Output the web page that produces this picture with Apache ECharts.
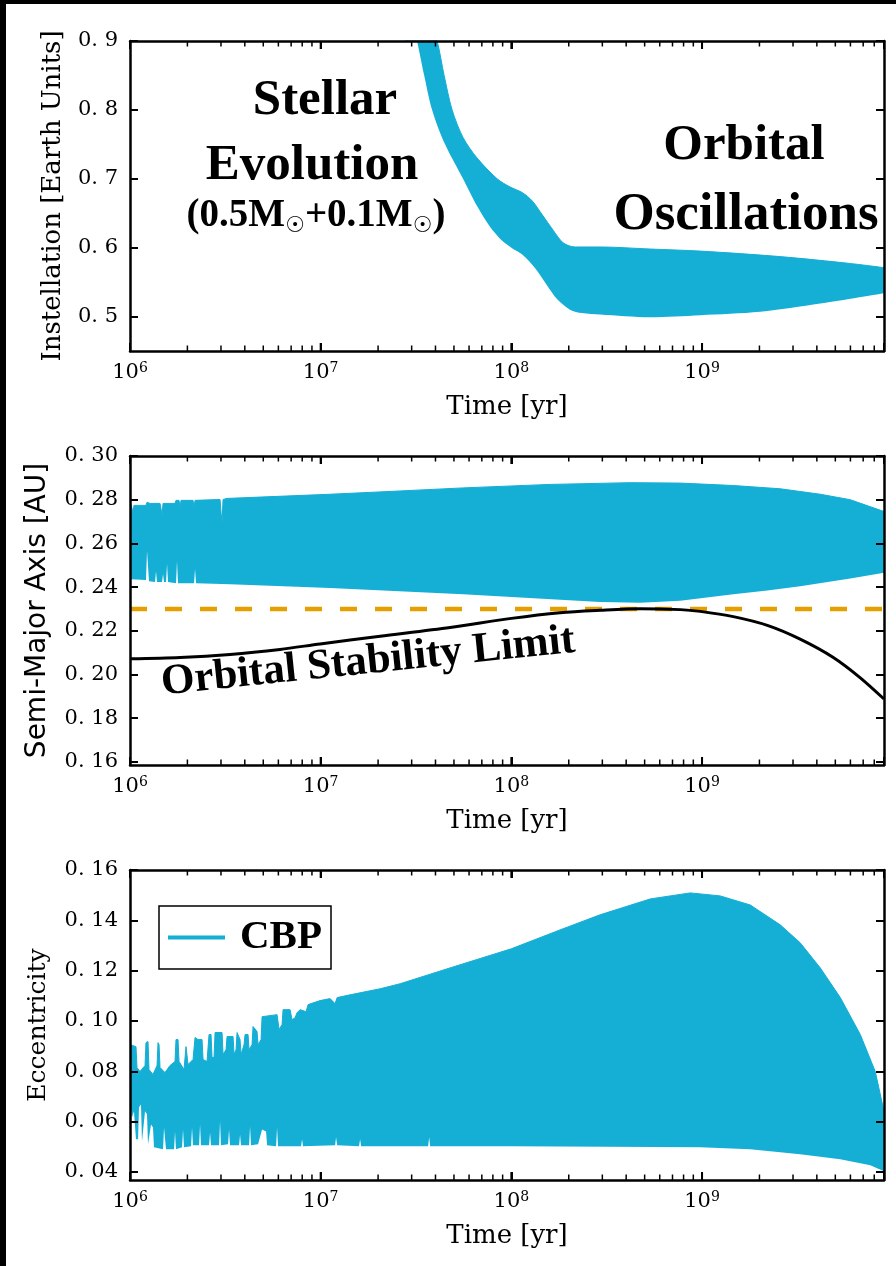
<!DOCTYPE html>
<html>
<head>
<meta charset="utf-8">
<script src="https://cdn.jsdelivr.net/npm/echarts@6/dist/echarts.min.js"></script>
<style>
  html, body { margin: 0; background: #000; }
  #chart { position: absolute; left: 6px; top: 4px; width: 890px; height: 1262px; background: #fff; }
  #err { position: absolute; left: 10px; bottom: 4px; color: #c00; font: 12px monospace; margin: 0; z-index: 10; }
</style>
</head>
<body>
<div id="chart"></div>
<pre id="err"></pre>
<script>
window.addEventListener("error", (e) => { document.getElementById("err").textContent += "ERR " + e.message + "\n"; });

// envelope of the oscillating quantities, [time (yr), value]
const instUpper = [[2.77e7, 1.02], [3.55e7, 0.95], [4.08e7, 0.90], [4.44e7, 0.85], [4.89e7, 0.80], [5.58e7, 0.76],
  [6.62e7, 0.73], [8.42e7, 0.70], [9.86e7, 0.688], [1.14e8, 0.68], [1.285e8, 0.668], [1.45e8, 0.648], [1.66e8, 0.625],
  [1.87e8, 0.607], [2.16e8, 0.601], [2.92e8, 0.601], [5.35e8, 0.598], [9.8e8, 0.595], [2.57e9, 0.587], [5.99e9, 0.577], [9e9, 0.571]];
const instLower = [[2.5e7, 1.0], [2.77e7, 0.97], [3.2e7, 0.90], [3.49e7, 0.85], [3.84e7, 0.80], [4.49e7, 0.75], [5.58e7, 0.70],
  [6.62e7, 0.66], [7.74e7, 0.63], [8.95e7, 0.61], [1.0e8, 0.60], [1.14e8, 0.59], [1.333e8, 0.57], [1.54e8, 0.545],
  [1.74e8, 0.525], [2.03e8, 0.51], [2.35e8, 0.505], [2.92e8, 0.503], [5.35e8, 0.499], [9.8e8, 0.502], [2.02e9, 0.507],
  [4.17e9, 0.519], [9e9, 0.534]];

const smaUpper = [[1e6, 0.2797], [1.024e6, 0.2797], [1.037e6, 0.2741], [1.049e6, 0.2774], [1.213e6, 0.2774],
  [1.228e6, 0.2788], [1.273e6, 0.2783], [1.437e6, 0.2783], [1.454e6, 0.2760], [1.472e6, 0.2727], [1.49e6, 0.2783],
  [1.722e6, 0.2783], [1.743e6, 0.2797], [1.808e6, 0.2797], [1.83e6, 0.2764], [1.852e6, 0.2797], [2.141e6, 0.2797],
  [2.167e6, 0.2764], [2.193e6, 0.2797], [2.966e6, 0.2801], [3.002e6, 0.2741], [3.039e6, 0.2695], [3.076e6, 0.2801],
  [3.228e6, 0.2806], [4.809e6, 0.2812], [1.12e7, 0.2825], [2.61e7, 0.2840], [5.585e7, 0.2854], [1.598e8, 0.2870],
  [4.2e8, 0.2878], [7.69e8, 0.2876], [1.458e9, 0.2865], [2.57e9, 0.2850], [4.17e9, 0.2825], [5.99e9, 0.2800], [9e9, 0.2746]];
const smaLower = [[1e6, 0.2450], [1.012e6, 0.2436], [1.213e6, 0.2432], [1.228e6, 0.2566], [1.243e6, 0.2566],
  [1.258e6, 0.2427], [1.353e6, 0.2423], [1.369e6, 0.2473], [1.386e6, 0.2423], [1.472e6, 0.2423], [1.49e6, 0.2460],
  [1.508e6, 0.2423], [1.545e6, 0.2423], [1.564e6, 0.2506], [1.583e6, 0.2423], [1.743e6, 0.2418], [1.764e6, 0.2520],
  [1.786e6, 0.2418], [2.167e6, 0.2418], [2.193e6, 0.2483], [2.22e6, 0.2418], [3.347e6, 0.2413], [1.12e7, 0.2396],
  [5.585e7, 0.2367], [2.92e8, 0.2332], [4.74e8, 0.2328], [7.69e8, 0.2338], [1.458e9, 0.2367], [2.2e9, 0.2385],
  [3.27e9, 0.2404], [5.99e9, 0.2440], [9e9, 0.2466]];
const stabilityLimit = [[1e6, 0.2072], [1.83e6, 0.2078], [3.347e6, 0.2092], [6.124e6, 0.2115], [9.93e6, 0.2140],
  [2.05e7, 0.2175], [4.77e7, 0.2215], [1e8, 0.2257], [1.8e8, 0.2283], [2.92e8, 0.2294], [4.74e8, 0.2301],
  [7.69e8, 0.2297], [9.78e8, 0.2289], [1.458e9, 0.2265], [2.2e9, 0.2225], [3.27e9, 0.2162], [4.88e9, 0.2078],
  [6.76e9, 0.1985], [9e9, 0.1888]];
const hzLimit = 0.23;

const eccUpper = [[1.0e6, 0.0906], [1.075e6, 0.0898], [1.088e6, 0.0815], [1.128e6, 0.0799], [1.199e6, 0.0823],
  [1.213e6, 0.0914], [1.243e6, 0.0918], [1.258e6, 0.0807], [1.32e6, 0.0787], [1.386e6, 0.0823], [1.403e6, 0.0914],
  [1.42e6, 0.0906], [1.437e6, 0.0815], [1.526e6, 0.0795], [1.621e6, 0.0823], [1.722e6, 0.0839], [1.743e6, 0.0926],
  [1.786e6, 0.0926], [1.808e6, 0.0839], [1.92e6, 0.0807], [1.967e6, 0.0898], [1.991e6, 0.0898], [2.015e6, 0.0827],
  [2.141e6, 0.0847], [2.193e6, 0.0934], [2.274e6, 0.0926], [2.387e6, 0.0926], [2.416e6, 0.0847], [2.535e6, 0.0839],
  [2.597e6, 0.0946], [2.661e6, 0.0946], [2.693e6, 0.0855], [2.759e6, 0.0855], [2.793e6, 0.0954], [3.039e6, 0.0954],
  [3.076e6, 0.0867], [3.189e6, 0.0886], [3.228e6, 0.0938], [3.471e6, 0.0938], [3.513e6, 0.0867], [3.599e6, 0.0886],
  [3.642e6, 0.0954], [3.777e6, 0.0926], [3.823e6, 0.0867], [3.964e6, 0.0906], [4.012e6, 0.0946], [4.16e6, 0.0946],
  [4.211e6, 0.0886], [4.366e6, 0.0906], [4.419e6, 0.0978], [4.638e6, 0.0958], [4.695e6, 0.0906], [4.868e6, 0.0926],
  [4.927e6, 0.1017], [5.905e6, 0.1025], [6.05e6, 0.0966], [6.273e6, 0.0986], [6.35e6, 0.1045], [6.91e6, 0.1045],
  [7.079e6, 0.1005], [7.34e6, 0.1013], [7.52e6, 0.1033], [7.797e6, 0.1045], [8.38e6, 0.1037], [8.59e6, 0.1065],
  [9.93e6, 0.1081], [1.12e7, 0.1089], [1.19e7, 0.1069], [1.22e7, 0.1093], [1.427e7, 0.1104], [1.61e7, 0.1112],
  [1.816e7, 0.1120], [2.05e7, 0.1128], [2.61e7, 0.1148], [4.77e7, 0.1211], [1e8, 0.1287], [1.8e8, 0.1362],
  [2.92e8, 0.1422], [5.35e8, 0.1485], [8.67e8, 0.1509], [1.246e9, 0.1497], [1.79e9, 0.1461], [2.57e9, 0.1382],
  [3.27e9, 0.1311], [4.17e9, 0.1211], [5.31e9, 0.1093], [6.76e9, 0.0946], [8.1e9, 0.0799], [9e9, 0.0641]];
const eccLower = [[1.0e6, 0.0688], [1.024e6, 0.0617], [1.049e6, 0.0641], [1.075e6, 0.0530], [1.102e6, 0.0530],
  [1.115e6, 0.0657], [1.142e6, 0.0668], [1.156e6, 0.0522], [1.184e6, 0.0518], [1.199e6, 0.0641], [1.228e6, 0.0629],
  [1.243e6, 0.0510], [1.273e6, 0.0506], [1.289e6, 0.0589], [1.32e6, 0.0577], [1.336e6, 0.0498], [1.49e6, 0.0490],
  [1.508e6, 0.0577], [1.526e6, 0.0577], [1.545e6, 0.0490], [1.702e6, 0.0490], [1.722e6, 0.0561], [1.743e6, 0.0490],
  [1.874e6, 0.0498], [1.897e6, 0.0569], [1.92e6, 0.0498], [2.089e6, 0.0502], [2.115e6, 0.0577], [2.141e6, 0.0506],
  [2.302e6, 0.0506], [2.33e6, 0.0589], [2.358e6, 0.0506], [2.597e6, 0.0506], [2.629e6, 0.0557], [2.661e6, 0.0506],
  [2.931e6, 0.0506], [2.966e6, 0.0601], [3.002e6, 0.0506], [3.267e6, 0.0510], [3.307e6, 0.0569], [3.347e6, 0.0506],
  [3.732e6, 0.0506], [3.777e6, 0.0549], [3.823e6, 0.0506], [4.211e6, 0.0506], [4.262e6, 0.0581], [4.314e6, 0.0506],
  [4.695e6, 0.0510], [4.927e6, 0.0569], [5.171e6, 0.0561], [5.234e6, 0.0506], [5.834e6, 0.0502], [5.905e6, 0.0577],
  [5.977e6, 0.0502], [7.891e6, 0.0502], [7.986e6, 0.0530], [8.08e6, 0.0502], [1.19e7, 0.0506], [1.204e7, 0.0538],
  [1.22e7, 0.0506], [1.588e7, 0.0502], [1.61e7, 0.0530], [1.63e7, 0.0502], [3.66e7, 0.0502], [3.705e7, 0.0538],
  [3.75e7, 0.0502], [1e8, 0.0502], [9.78e8, 0.0498], [1.79e9, 0.0490], [3.27e9, 0.0470], [5.31e9, 0.0450],
  [7.63e9, 0.0427], [9e9, 0.0403]];

const instTicks = [0.5, 0.6, 0.7, 0.8, 0.9];
const smaTicks = [0.16, 0.18, 0.20, 0.22, 0.24, 0.26, 0.28, 0.30];
const eccTicks = [0.04, 0.06, 0.08, 0.10, 0.12, 0.14, 0.16];
const timeRange = [1e6, 9e9];
const decadeTicks = [1e6, 1e7, 1e8, 1e9];
const minorTimeTicks = [];
decadeTicks.forEach((d) => {
  for (let k = 2; k <= 9; k++) if (k * d < timeRange[1]) minorTimeTicks.push(k * d);
});

const BLUE = "#15aed5";
const ORANGE = "#e69f00";
const SERIF = "DejaVu Serif";
const BOLD = "Liberation Serif";

const panels = [
  { grid: { left: 124, top: 37, width: 754, height: 310 }, range: [0.45, 0.9], ticks: instTicks, dec: 1,
    name: "Instellation [Earth Units]", nameGap: 64, nameFont: { fontFamily: SERIF, fontSize: 26 } },
  { grid: { left: 124, top: 452, width: 754, height: 309 }, range: [0.1586, 0.30], ticks: smaTicks, dec: 2,
    name: "Semi-Major Axis [AU]", nameGap: 78, nameFont: { fontFamily: "DejaVu Sans", fontSize: 28 } },
  { grid: { left: 124, top: 866, width: 754, height: 310 }, range: [0.0368, 0.16], ticks: eccTicks, dec: 2,
    name: "Eccentricity", nameGap: 79, nameFont: { fontFamily: SERIF, fontSize: 25 } },
];

const frame = () => ({ show: true, onZero: false, lineStyle: { color: "#000", width: 2.5 } });
const majorTick = () => ({ show: true, inside: true, length: 8, lineStyle: { color: "#000", width: 2 } });

const powLabel = (v) => {
  const e = Math.log10(v);
  const r = Math.round(e);
  if (Math.abs(e - r) > 1e-6) return "";
  return "{b|10}{s|" + r + "}";
};

const xAxis = [];
const yAxis = [];
panels.forEach((p, g) => {
  xAxis.push({
    type: "log", gridIndex: g, position: "bottom", min: timeRange[0], max: timeRange[1], z: 5,
    axisLine: frame(), axisTick: majorTick(), splitLine: { show: false },
    axisLabel: {
      margin: 10, formatter: powLabel, color: "#000",
      rich: {
        b: { fontFamily: SERIF, fontSize: 21, color: "#000", lineHeight: 24 },
        s: { fontFamily: SERIF, fontSize: 14, color: "#000", lineHeight: 14, verticalAlign: "top" },
      },
    },
    name: "Time [yr]", nameLocation: "middle", nameGap: 43,
    nameTextStyle: { fontFamily: SERIF, fontSize: 26, color: "#000" },
  });
  xAxis.push({
    type: "log", gridIndex: g, position: "top", min: timeRange[0], max: timeRange[1], z: 5,
    axisLine: frame(), axisTick: majorTick(), axisLabel: { show: false }, splitLine: { show: false },
  });
  const fmt = (v) => v.toFixed(p.dec).replace(".", ". ");
  yAxis.push({
    type: "value", gridIndex: g, position: "left", min: p.range[0], max: p.range[1], z: 5,
    axisLine: frame(), axisTick: Object.assign(majorTick(), { customValues: p.ticks }), splitLine: { show: false },
    axisLabel: { customValues: p.ticks, formatter: fmt, margin: 12, fontFamily: SERIF, fontSize: 21, color: "#000" },
    name: p.name, nameLocation: "middle", nameGap: p.nameGap,
    nameTextStyle: Object.assign({ color: "#000" }, p.nameFont),
  });
  yAxis.push({
    type: "value", gridIndex: g, position: "right", min: p.range[0], max: p.range[1], z: 5,
    axisLine: frame(), axisTick: Object.assign(majorTick(), { customValues: p.ticks }),
    axisLabel: { show: false }, splitLine: { show: false },
  });
});

// log-axis tick marks (bottom and top edge), one short broken segment per tick
const tickMarks = (g, values, px, width) => {
  const p = panels[g];
  const len = px * (p.range[1] - p.range[0]) / p.grid.height;
  const data = [];
  values.forEach((t) => {
    data.push([t, p.range[0]], [t, p.range[0] + len], [t, "-"]);
    data.push([t, p.range[1]], [t, p.range[1] - len], [t, "-"]);
  });
  return {
    type: "line", xAxisIndex: 2 * g, yAxisIndex: 2 * g, data, symbol: "none", z: 8,
    lineStyle: { color: "#000", width },
  };
};

// band = blue fill under the upper envelope, white fill under the lower one
const band = (g, name, upper, lower, smooth) => [
  {
    name, type: "line", xAxisIndex: 2 * g, yAxisIndex: 2 * g, data: upper, symbol: "none", z: 2, smooth,
    lineStyle: { color: BLUE, width: 1 }, itemStyle: { color: BLUE },
    areaStyle: { color: BLUE, opacity: 1, origin: "start" },
  },
  {
    name: name + " lower", type: "line", xAxisIndex: 2 * g, yAxisIndex: 2 * g, data: lower, symbol: "none", z: 3, smooth,
    lineStyle: { width: 0 }, areaStyle: { color: "#fff", opacity: 1, origin: "start" },
  },
];

// tick series first, drawn on top through z
const series = [];
panels.forEach((p, g) => {
  series.push(tickMarks(g, minorTimeTicks, 5.5, 1.5));
  series.push(tickMarks(g, decadeTicks.slice(1), 8, 2));
});
series.push(
  ...band(0, "Instellation", instUpper, instLower, 0.3),
  ...band(1, "Semi-major axis", smaUpper, smaLower, false),
  ...band(2, "CBP", eccUpper, eccLower, false),
  {
    name: "HZ limit", type: "line", xAxisIndex: 2, yAxisIndex: 2, symbol: "none", z: 4,
    data: [[timeRange[0], hzLimit], [timeRange[1], hzLimit]],
    lineStyle: { color: ORANGE, width: 4.5, type: [17, 18] },
  },
  {
    name: "Stability", type: "line", xAxisIndex: 2, yAxisIndex: 2, symbol: "none", z: 4, smooth: 0.3,
    data: stabilityLimit, lineStyle: { color: "#000", width: 3 },
  }
);

const label = (x, y, text, size, extra) => ({
  type: "text", x, y, z: 20, rotation: (extra && extra.rotation) || 0,
  style: Object.assign({
    text, font: "bold " + size + 'px "' + BOLD + '"', fill: "#000",
    align: "center", verticalAlign: "middle", textAlign: "center", textVerticalAlign: "middle",
  }, extra && extra.style),
});

try {
  const chart = echarts.init(document.getElementById("chart"));
  chart.setOption({
    animation: false,
    backgroundColor: "#fff",
    grid: panels.map((p) => Object.assign({}, p.grid)),
    xAxis, yAxis, series,
    legend: {
      data: ["CBP"], left: 153, top: 902, selectedMode: false,
      padding: [11, 9, 11, 9], itemWidth: 57, itemHeight: 4, icon: "rect",
      borderColor: "#000", borderWidth: 1.5, backgroundColor: "#fff", z: 20,
      textStyle: { fontFamily: BOLD, fontWeight: "bold", fontSize: 41, color: "#000", lineHeight: 40, padding: [0, 0, 0, 10] },
    },
    graphic: [
      label(319, 97, "Stellar", 51),
      label(306, 162, "Evolution", 51),
      label(310, 212, "{a|(0.5M}{s|☉}{a|+0.1M}{s|☉}{a|)}", 39, {
        style: {
          rich: {
            a: { font: "bold 39px \"" + BOLD + "\"", fill: "#000", lineHeight: 42 },
            s: { font: "22px \"DejaVu Sans\"", fill: "#000", lineHeight: 22, verticalAlign: "bottom" },
          },
        },
      }),
      label(738, 142, "Orbital", 51),
      label(740, 211, "Oscillations", 53),
      label(362, 658, "Orbital Stability Limit", 43, { rotation: 0.103 }),
    ],
  });
} catch (e) {
  document.getElementById("err").textContent += "CATCH " + e.message + "\n";
}
</script>
</body>
</html>
